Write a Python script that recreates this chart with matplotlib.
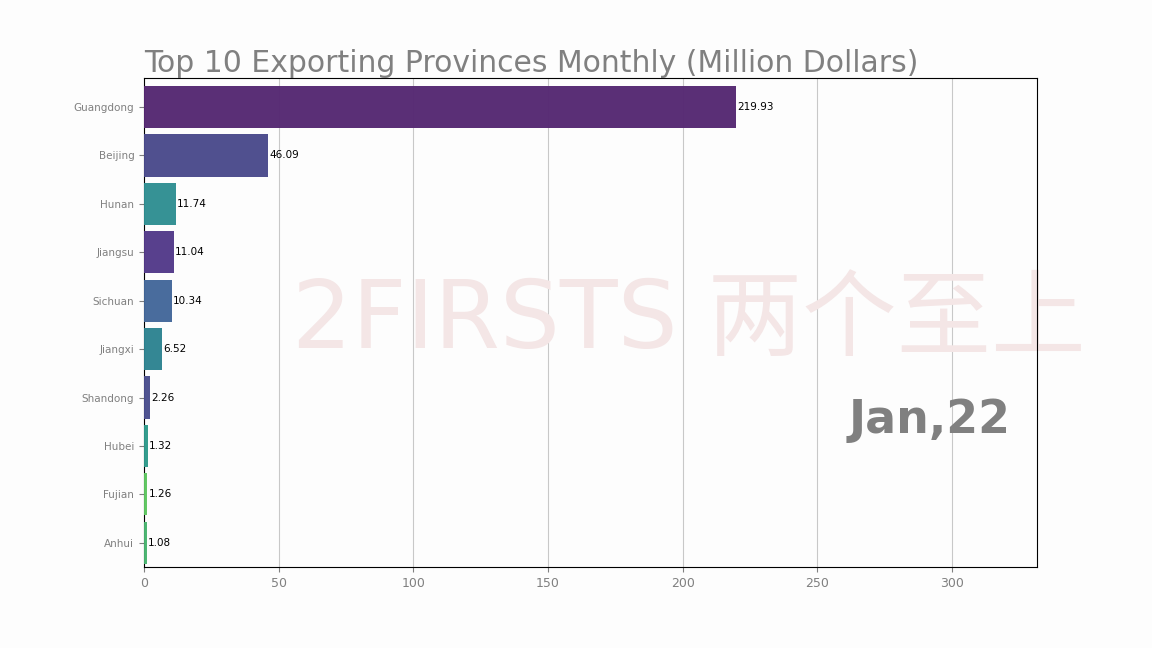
import matplotlib
matplotlib.use("Agg")
import matplotlib.pyplot as plt

provinces = ["Guangdong","Beijing","Hunan","Jiangsu","Sichuan","Jiangxi","Shandong","Hubei","Fujian","Anhui"]
values = [219.93,46.09,11.74,11.04,10.34,6.52,2.26,1.32,1.26,1.08]
colors = ["#552872","#4a4a8c","#2f8f92","#533a89","#43679a","#2d8391","#4a4e8e","#2e9a8b","#5ec660","#48b46f"]
date_label = "Jan,22"
title = "Top 10 Exporting Provinces Monthly (Million Dollars)"

plt.rcParams['font.family'] = ['DejaVu Sans', 'Noto Sans CJK SC']
fig = plt.figure(figsize=(11.52, 6.48), dpi=100, facecolor="#fdfdfd")
ax = fig.add_axes([144/1152, 1-567/648, (1037-144)/1152, (567-78)/648])
ax.set_facecolor("#fdfdfd")

ax.text(0.61, 0.5, "2FIRSTS 两个至上", transform=ax.transAxes, ha="center", va="center",
        fontsize=68, color="#f4e6e6", family=['DejaVu Sans', 'Noto Sans CJK SC'], zorder=1)

ypos = list(range(len(provinces)))
ax.barh(ypos, values, color=colors, height=0.87, alpha=0.97, zorder=3)
for y, v in zip(ypos, values):
    ax.text(v + 0.5, y, f"{v:.2f}", va="center", ha="left", fontsize=7.5, color="black", zorder=4)
ax.set_yticks(ypos)
ax.set_yticklabels(provinces, fontsize=7.5, color="gray")
ax.set_ylim(len(provinces) - 0.5, -0.6)
ax.set_xlim(0, 331.6)
ax.set_xticks([0, 50, 100, 150, 200, 250, 300])
ax.tick_params(axis="x", labelsize=9, colors="gray")
ax.tick_params(axis="y", colors="gray")
ax.grid(axis="x", color="#c8c8c8", linewidth=0.8, zorder=0)
ax.set_axisbelow(True)
ax.set_title(title, loc="left", fontsize=21.5, color="gray", pad=4)
ax.text(0.97, 0.3, date_label, transform=ax.transAxes, ha="right", va="center",
        fontsize=33, fontweight="bold", color="gray", zorder=5)
fig.savefig("out.png", dpi=100, facecolor=fig.get_facecolor())
